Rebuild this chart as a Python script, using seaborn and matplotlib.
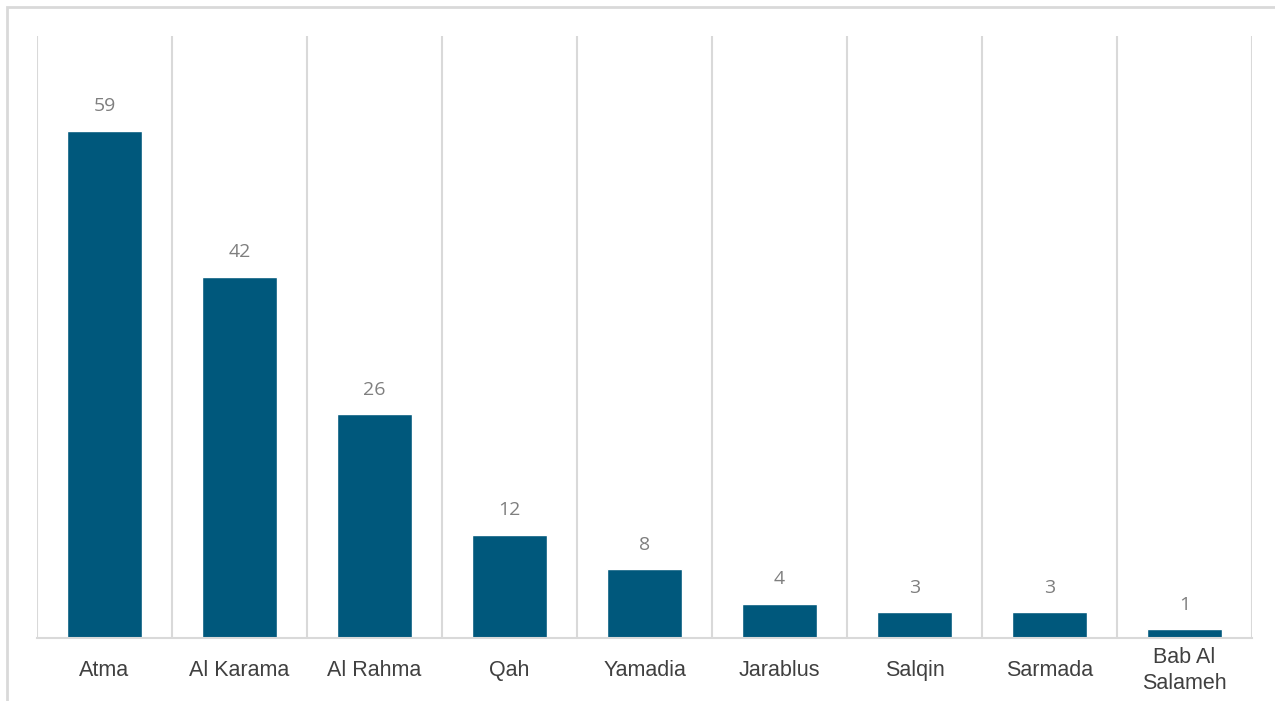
import matplotlib
matplotlib.use("Agg")
import matplotlib.pyplot as plt
import seaborn as sns
import pandas as pd
from matplotlib.patches import Rectangle

camps = ["Atma", "Al Karama", "Al Rahma", "Qah", "Yamadia", "Jarablus",
         "Salqin", "Sarmada", "Bab Al\nSalameh"]
counts = [59, 42, 26, 12, 8, 4, 3, 3, 1]

df = pd.DataFrame({"camp": camps, "count": counts})

sns.set_theme(style="white")
plt.rcParams["font.family"] = ["Liberation Sans", "DejaVu Sans"]

W, H = 1275, 701
fig = plt.figure(figsize=(W / 100, H / 100), dpi=100)
fig.patch.set_facecolor("white")

# outer chart frame (top and left edges visible)
fig.patches.append(Rectangle((7 / W, -0.1), 1.5, 1 - 7 / H + 0.1,
                             transform=fig.transFigure, fill=False,
                             edgecolor="#d9d9d9", linewidth=2,
                             clip_on=False))

ax = fig.add_axes([37 / W, 1 - 638 / H, 1215 / W, 602 / H])
sns.barplot(data=df, x="camp", y="count", color="#00587c", width=0.56,
            saturation=1, ax=ax)

ax.set_xlim(-0.5, len(camps) - 0.5)
ax.set_ylim(0, 70)
ax.set_xlabel("")
ax.set_ylabel("")
ax.set_yticks([])

# vertical separators between categories
ax.set_xticks([i - 0.5 for i in range(len(camps) + 1)], minor=True)
ax.grid(True, which="minor", axis="x", color="#d9d9d9", linewidth=1.5)
ax.grid(False, which="major")
ax.set_axisbelow(True)
ax.tick_params(axis="x", which="both", length=0)
ax.tick_params(axis="x", which="major", pad=23.5, labelsize=15.5,
               labelcolor="#404040")
for lbl in ax.get_xticklabels():
    lbl.set_verticalalignment("center")
    lbl.set_linespacing(1.35)

for side in ["top", "right", "left"]:
    ax.spines[side].set_visible(False)
ax.spines["bottom"].set_color("#d9d9d9")
ax.spines["bottom"].set_linewidth(1.5)

for i, v in enumerate(counts):
    ax.annotate(str(v), (i, v), xytext=(0, 17.5), textcoords="offset points",
                ha="center", va="center", fontsize=14, color="#7f7f7f",
                family=["Open Sans", "DejaVu Sans"])

fig.savefig("out.png", dpi=100)
